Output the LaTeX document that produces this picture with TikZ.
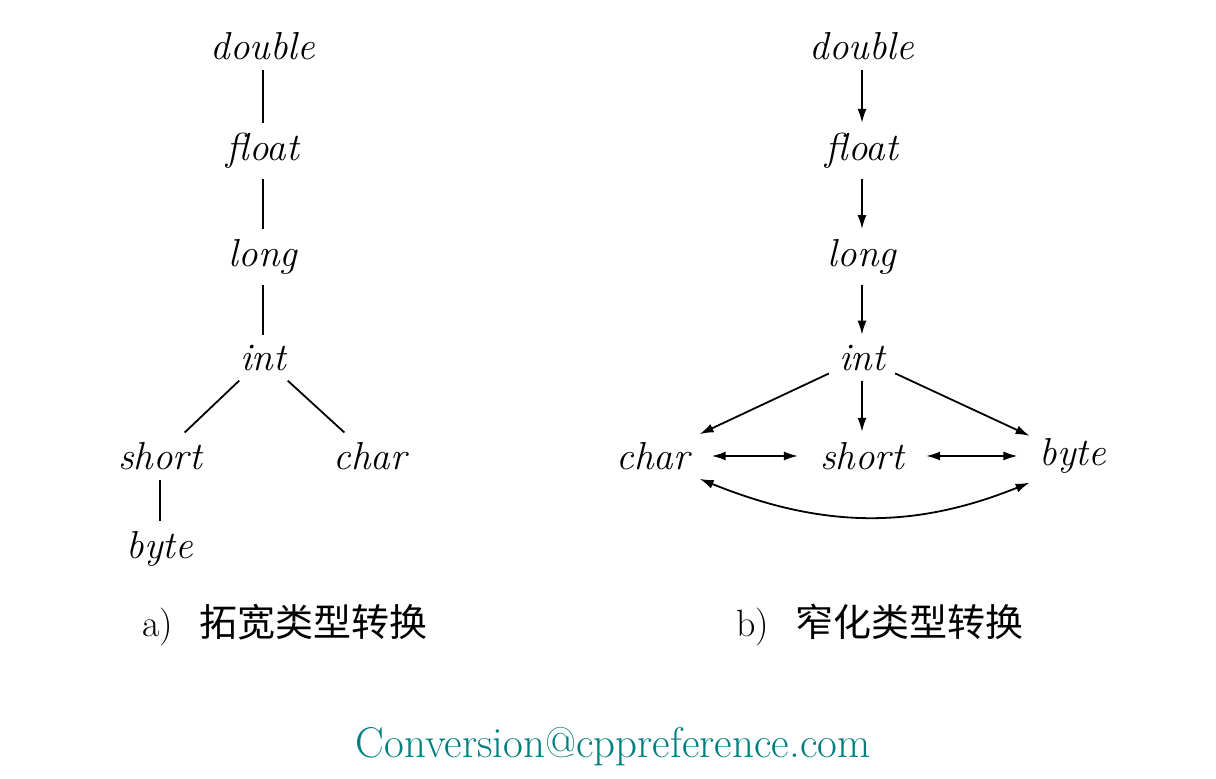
\documentclass[tikz,border=0pt]{standalone}
\usepackage{fontspec}
\newfontfamily\cjk{Noto Sans CJK SC}
\usepackage{xcolor}
\usetikzlibrary{arrows.meta,positioning}

\tikzset{
  typ/.style={inner sep=4pt, font=\fontsize{19.5}{23}\selectfont\itshape},
  edge/.style={line width=0.9pt, shorten <=1pt, shorten >=1pt},
  conv/.style={edge, -{Latex[length=7pt,width=4.5pt]}},
  mutual/.style={edge, {Latex[length=7pt,width=4.5pt]}-{Latex[length=7pt,width=4.5pt]}},
  caption/.style={font=\fontsize{19}{22}\selectfont},
}

\begin{document}
\begin{tikzpicture}[x=0.5pt, y=-0.5pt]
\useasboundingbox (0,0) rectangle (1216,779);
% a) widening
\node[typ] (ldouble) at (263,46) {double};
\node[typ] (lfloat) at (263,151) {float};
\node[typ] (llong) at (263,257) {long};
\node[typ] (lint) at (263,358) {int};
\node[typ] (lshort) at (160,456) {short};
\node[typ] (lchar) at (370,456) {char};
\node[typ] (lbyte) at (160,549) {byte};
\draw[edge] (ldouble) -- (lfloat);
\draw[edge] (lfloat) -- (llong);
\draw[edge] (llong) -- (lint);
\draw[edge] (lint) -- (lshort);
\draw[edge] (lint) -- (lchar);
\draw[edge] (lshort) -- (lbyte);
\node[caption] (capa) at (285,625) {a)\hspace{0.7em}{\cjk 拓宽类型转换}};
% b) narrowing
\node[typ] (rdouble) at (862,46) {double};
\node[typ] (rfloat) at (862,151) {float};
\node[typ] (rlong) at (862,257) {long};
\node[typ] (rint) at (862,358) {int};
\node[typ] (rchar) at (653,456) {char};
\node[typ] (rshort) at (862,456) {short};
\node[typ] (rbyte) at (1073,456) {byte};
\draw[conv] (rdouble) -- (rfloat);
\draw[conv] (rfloat) -- (rlong);
\draw[conv] (rlong) -- (rint);
\draw[conv] (rint) -- (rshort);
\draw[conv] (rint) -- (rchar);
\draw[conv] (rint) -- (rbyte);
\draw[mutual, shorten <=7pt, shorten >=7pt] (rchar) -- (rshort);
\draw[mutual, shorten <=7pt, shorten >=7pt] (rshort) -- (rbyte);
\draw[mutual] (rchar.south east) to[out=-22, in=-158] (rbyte.south west);
\node[caption] (capb) at (880,625) {b)\hspace{0.7em}{\cjk 窄化类型转换}};
% mark
\node[font=\fontsize{21.5}{24}\selectfont, text=teal] (mark) at (613,747) {Conversion@cppreference.com};
\end{tikzpicture}
\end{document}
